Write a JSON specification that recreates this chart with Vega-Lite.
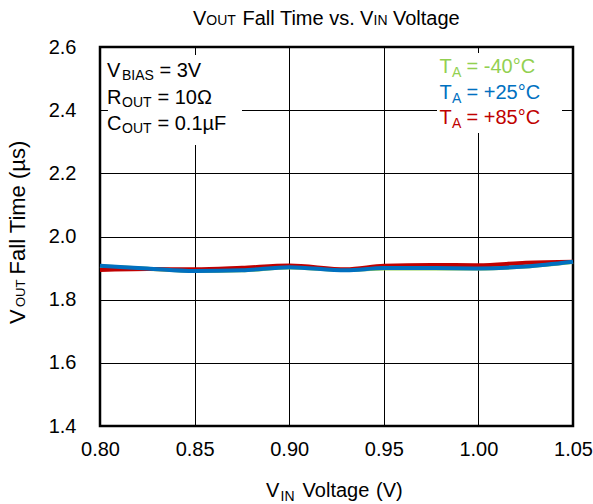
{
  "$schema": "https://vega.github.io/schema/vega-lite/v6.json",
  "width": 473,
  "height": 379,
  "autosize": {"type": "none"},
  "padding": {"left": 100, "top": 47, "right": 20, "bottom": 78},
  "background": "white",
  "config": {"font": "Liberation Sans", "view": {"stroke": "#000", "strokeWidth": 2.5}},
  "datasets": {
    "fall": [
      {"vin": 0.80, "tf": 1.906, "ta": "-40"},
      {"vin": 0.825, "tf": 1.898, "ta": "-40"},
      {"vin": 0.85, "tf": 1.891, "ta": "-40"},
      {"vin": 0.875, "tf": 1.893, "ta": "-40"},
      {"vin": 0.90, "tf": 1.902, "ta": "-40"},
      {"vin": 0.93, "tf": 1.894, "ta": "-40"},
      {"vin": 0.95, "tf": 1.899, "ta": "-40"},
      {"vin": 0.975, "tf": 1.899, "ta": "-40"},
      {"vin": 1.00, "tf": 1.899, "ta": "-40"},
      {"vin": 1.025, "tf": 1.905, "ta": "-40"},
      {"vin": 1.05, "tf": 1.919, "ta": "-40"},
      {"vin": 0.80, "tf": 1.894, "ta": "+85"},
      {"vin": 0.825, "tf": 1.897, "ta": "+85"},
      {"vin": 0.85, "tf": 1.896, "ta": "+85"},
      {"vin": 0.875, "tf": 1.901, "ta": "+85"},
      {"vin": 0.90, "tf": 1.908, "ta": "+85"},
      {"vin": 0.93, "tf": 1.896, "ta": "+85"},
      {"vin": 0.95, "tf": 1.907, "ta": "+85"},
      {"vin": 0.975, "tf": 1.910, "ta": "+85"},
      {"vin": 1.00, "tf": 1.909, "ta": "+85"},
      {"vin": 1.025, "tf": 1.917, "ta": "+85"},
      {"vin": 1.05, "tf": 1.920, "ta": "+85"},
      {"vin": 0.80, "tf": 1.907, "ta": "+25"},
      {"vin": 0.825, "tf": 1.899, "ta": "+25"},
      {"vin": 0.85, "tf": 1.891, "ta": "+25"},
      {"vin": 0.875, "tf": 1.893, "ta": "+25"},
      {"vin": 0.90, "tf": 1.903, "ta": "+25"},
      {"vin": 0.93, "tf": 1.893, "ta": "+25"},
      {"vin": 0.95, "tf": 1.900, "ta": "+25"},
      {"vin": 0.975, "tf": 1.900, "ta": "+25"},
      {"vin": 1.00, "tf": 1.899, "ta": "+25"},
      {"vin": 1.025, "tf": 1.905, "ta": "+25"},
      {"vin": 1.05, "tf": 1.920, "ta": "+25"}
    ]
  },
  "layer": [
    {
      "data": {"name": "fall"},
      "mark": {"type": "line", "strokeWidth": 4, "interpolate": "monotone"},
      "encoding": {
        "x": {"field": "vin", "type": "quantitative",
          "scale": {"domain": [0.8, 1.05], "nice": false, "zero": false},
          "axis": {"title": null, "values": [0.8, 0.85, 0.9, 0.95, 1.0, 1.05], "format": ".2f", "ticks": false, "domain": false,
            "grid": true, "gridColor": "#000", "gridOpacity": 1, "gridWidth": 1,
            "labelFontSize": 20, "labelColor": "#000", "labelPadding": 13, "labelFlush": false, "labelOverlap": false, "labelBound": false}},
        "y": {"field": "tf", "type": "quantitative",
          "scale": {"domain": [1.4, 2.6], "nice": false, "zero": false},
          "axis": {"title": null, "values": [1.4, 1.6, 1.8, 2.0, 2.2, 2.4, 2.6], "format": ".1f", "ticks": false, "domain": false,
            "grid": true, "gridColor": "#000", "gridOpacity": 1, "gridWidth": 1,
            "labelFontSize": 20, "labelColor": "#000", "labelPadding": 24, "labelFlush": false, "labelOverlap": false, "labelBound": false}},
        "color": {"field": "ta", "type": "nominal",
          "scale": {"domain": ["-40", "+25", "+85"], "range": ["#92D050", "#0070C0", "#C00000"]}, "legend": null}
      }
    },
    {"data": {"values": [{}]}, "mark": {"type": "rect", "fill": "white"},
      "encoding": {"x": {"datum": 0.8042}, "x2": {"datum": 0.87505}, "y": {"datum": 2.57467}, "y2": {"datum": 2.28971}}},
    {"data": {"values": [{}]}, "mark": {"type": "rect", "fill": "white"},
      "encoding": {"x": {"datum": 0.97812}, "x2": {"datum": 1.04419}, "y": {"datum": 2.581}, "y2": {"datum": 2.32771}}},

    {"data": {"values": [{}]}, "mark": {"type": "text", "text": "V", "fontSize": 20, "align": "left", "baseline": "alphabetic", "color": "#000"},
      "encoding": {"x": {"datum": 0.84915}, "y": {"datum": 2.66966}}},
    {"data": {"values": [{}]}, "mark": {"type": "text", "text": "OUT", "fontSize": 14, "align": "left", "baseline": "alphabetic", "color": "#000"},
      "encoding": {"x": {"datum": 0.85618}, "y": {"datum": 2.66966}}},
    {"data": {"values": [{}]}, "mark": {"type": "text", "text": "Fall Time vs.", "fontSize": 20, "align": "left", "baseline": "alphabetic", "color": "#000"},
      "encoding": {"x": {"datum": 0.87532}, "y": {"datum": 2.66966}}},
    {"data": {"values": [{}]}, "mark": {"type": "text", "text": "V", "fontSize": 20, "align": "left", "baseline": "alphabetic", "color": "#000"},
      "encoding": {"x": {"datum": 0.93742}, "y": {"datum": 2.66966}}},
    {"data": {"values": [{}]}, "mark": {"type": "text", "text": "IN", "fontSize": 14, "align": "left", "baseline": "alphabetic", "color": "#000"},
      "encoding": {"x": {"datum": 0.94455}, "y": {"datum": 2.66966}}},
    {"data": {"values": [{}]}, "mark": {"type": "text", "text": "Voltage", "fontSize": 20, "align": "left", "baseline": "alphabetic", "color": "#000"},
      "encoding": {"x": {"datum": 0.95486}, "y": {"datum": 2.66966}}},

    {"data": {"values": [{}]}, "mark": {"type": "text", "text": "V", "fontSize": 20, "align": "left", "baseline": "alphabetic", "color": "#000"},
      "encoding": {"x": {"datum": 0.88779}, "y": {"datum": 1.17362}}},
    {"data": {"values": [{}]}, "mark": {"type": "text", "text": "IN", "fontSize": 14, "align": "left", "baseline": "alphabetic", "color": "#000"},
      "encoding": {"x": {"datum": 0.8954}, "y": {"datum": 1.1612}}},
    {"data": {"values": [{}]}, "mark": {"type": "text", "text": "Voltage", "fontSize": 20, "align": "left", "baseline": "alphabetic", "color": "#000"},
      "encoding": {"x": {"datum": 0.90708}, "y": {"datum": 1.17362}}},
    {"data": {"values": [{}]}, "mark": {"type": "text", "text": "(V)", "fontSize": 20, "align": "left", "baseline": "alphabetic", "color": "#000"},
      "encoding": {"x": {"datum": 0.94588}, "y": {"datum": 1.17362}}},

    {"data": {"values": [{}]}, "mark": {"type": "text", "text": "V", "fontSize": 22, "align": "left", "baseline": "alphabetic", "angle": 270, "color": "#000"},
      "encoding": {"x": {"datum": 0.76036}, "y": {"datum": 1.72296}}},
    {"data": {"values": [{}]}, "mark": {"type": "text", "text": "OUT", "fontSize": 13, "align": "left", "baseline": "alphabetic", "angle": 270, "color": "#000"},
      "encoding": {"x": {"datum": 0.76036}, "y": {"datum": 1.77679}}},
    {"data": {"values": [{}]}, "mark": {"type": "text", "text": "Fall Time (µs)", "fontSize": 22, "align": "left", "baseline": "alphabetic", "angle": 270, "color": "#000"},
      "encoding": {"x": {"datum": 0.76036}, "y": {"datum": 1.88}}},

    {"data": {"values": [{}]}, "mark": {"type": "text", "text": "V", "fontSize": 20, "align": "left", "baseline": "alphabetic", "color": "#000"},
      "encoding": {"x": {"datum": 0.8037}, "y": {"datum": 2.50501}}},
    {"data": {"values": [{}]}, "mark": {"type": "text", "text": "BIAS", "fontSize": 14, "align": "left", "baseline": "alphabetic", "color": "#000"},
      "encoding": {"x": {"datum": 0.81163}, "y": {"datum": 2.49552}}},
    {"data": {"values": [{}]}, "mark": {"type": "text", "text": "= 3V", "fontSize": 20, "align": "left", "baseline": "alphabetic", "color": "#000"},
      "encoding": {"x": {"datum": 0.83145}, "y": {"datum": 2.50501}}},
    {"data": {"values": [{}]}, "mark": {"type": "text", "text": "R", "fontSize": 20, "align": "left", "baseline": "alphabetic", "color": "#000"},
      "encoding": {"x": {"datum": 0.8037}, "y": {"datum": 2.41953}}},
    {"data": {"values": [{}]}, "mark": {"type": "text", "text": "OUT", "fontSize": 14, "align": "left", "baseline": "alphabetic", "color": "#000"},
      "encoding": {"x": {"datum": 0.81163}, "y": {"datum": 2.41003}}},
    {"data": {"values": [{}]}, "mark": {"type": "text", "text": "= 10Ω", "fontSize": 20, "align": "left", "baseline": "alphabetic", "color": "#000"},
      "encoding": {"x": {"datum": 0.83039}, "y": {"datum": 2.41953}}},
    {"data": {"values": [{}]}, "mark": {"type": "text", "text": "C", "fontSize": 20, "align": "left", "baseline": "alphabetic", "color": "#000"},
      "encoding": {"x": {"datum": 0.8037}, "y": {"datum": 2.33721}}},
    {"data": {"values": [{}]}, "mark": {"type": "text", "text": "OUT", "fontSize": 14, "align": "left", "baseline": "alphabetic", "color": "#000"},
      "encoding": {"x": {"datum": 0.81163}, "y": {"datum": 2.32771}}},
    {"data": {"values": [{}]}, "mark": {"type": "text", "text": "= 0.1µF", "fontSize": 20, "align": "left", "baseline": "alphabetic", "color": "#000"},
      "encoding": {"x": {"datum": 0.83039}, "y": {"datum": 2.33721}}},

    {"data": {"values": [{}]}, "mark": {"type": "text", "text": "T", "fontSize": 20, "align": "left", "baseline": "alphabetic", "color": "#92D050"},
      "encoding": {"x": {"datum": 0.97944}, "y": {"datum": 2.51768}}},
    {"data": {"values": [{}]}, "mark": {"type": "text", "text": "A", "fontSize": 14, "align": "left", "baseline": "alphabetic", "color": "#92D050"},
      "encoding": {"x": {"datum": 0.98605}, "y": {"datum": 2.50501}}},
    {"data": {"values": [{}]}, "mark": {"type": "text", "text": "= -40°C", "fontSize": 20, "align": "left", "baseline": "alphabetic", "color": "#92D050"},
      "encoding": {"x": {"datum": 0.99371}, "y": {"datum": 2.51768}}},
    {"data": {"values": [{}]}, "mark": {"type": "text", "text": "T", "fontSize": 20, "align": "left", "baseline": "alphabetic", "color": "#0070C0"},
      "encoding": {"x": {"datum": 0.97944}, "y": {"datum": 2.43536}}},
    {"data": {"values": [{}]}, "mark": {"type": "text", "text": "A", "fontSize": 14, "align": "left", "baseline": "alphabetic", "color": "#0070C0"},
      "encoding": {"x": {"datum": 0.98605}, "y": {"datum": 2.42269}}},
    {"data": {"values": [{}]}, "mark": {"type": "text", "text": "= +25°C", "fontSize": 20, "align": "left", "baseline": "alphabetic", "color": "#0070C0"},
      "encoding": {"x": {"datum": 0.99371}, "y": {"datum": 2.43536}}},
    {"data": {"values": [{}]}, "mark": {"type": "text", "text": "T", "fontSize": 20, "align": "left", "baseline": "alphabetic", "color": "#C00000"},
      "encoding": {"x": {"datum": 0.97944}, "y": {"datum": 2.3562}}},
    {"data": {"values": [{}]}, "mark": {"type": "text", "text": "A", "fontSize": 14, "align": "left", "baseline": "alphabetic", "color": "#C00000"},
      "encoding": {"x": {"datum": 0.98605}, "y": {"datum": 2.34354}}},
    {"data": {"values": [{}]}, "mark": {"type": "text", "text": "= +85°C", "fontSize": 20, "align": "left", "baseline": "alphabetic", "color": "#C00000"},
      "encoding": {"x": {"datum": 0.99371}, "y": {"datum": 2.3562}}}
  ]
}
